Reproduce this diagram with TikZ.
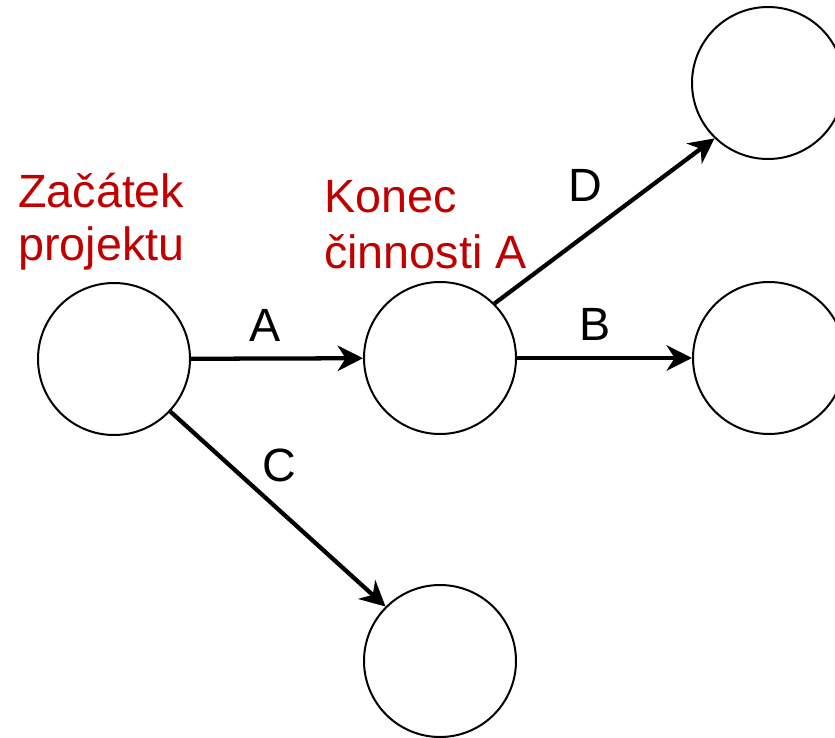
\documentclass[tikz,border=0pt]{standalone}
\usepackage{fontspec}
\setmainfont{Liberation Sans}
\usetikzlibrary{arrows.meta}
\definecolor{darkred}{HTML}{C00000}
\begin{document}
\begin{tikzpicture}[x=0.75pt,y=-0.75pt,
  event/.style={circle,draw=black,line width=1.5pt,minimum size=114pt,inner sep=0pt},
  act/.style={-{Stealth[length=19pt,width=19pt,inset=6pt]},line width=3.2pt},
  redtext/.style={text=darkred,font=\fontsize{35}{40}\selectfont,anchor=base west,inner sep=0pt},
  actlabel/.style={font=\fontsize{35}{40}\selectfont,anchor=base,inner sep=0pt}]
  \useasboundingbox (0,0) rectangle (835,738);
  % events
  \node[event] (s) at (114,359) {};
  \node[event] (k) at (440,358) {};
  \node[event] (t) at (768,83) {};
  \node[event] (r) at (769,358) {};
  \node[event] (b) at (440,661) {};
  % activities
  \draw[act] (s) -- (k);
  \draw[act] (k) -- (r);
  \draw[act] (k.45) -- (t.226);
  \draw[act] (s.-43) -- (b.135);
  % activity labels
  \node[actlabel] (la) at (265,341) {A};
  \node[actlabel] (lb) at (595,340) {B};
  \node[actlabel] (lc) at (279,481) {C};
  \node[actlabel] (ld) at (585,201) {D};
  % event captions
  \node[redtext] (s1) at (18,207) {Začátek};
  \node[redtext] (s2) at (18,260) {projektu};
  \node[redtext] (k1) at (324,212) {Konec};
  \node[redtext] (k2) at (324,268) {činnosti A};
\end{tikzpicture}
\end{document}
